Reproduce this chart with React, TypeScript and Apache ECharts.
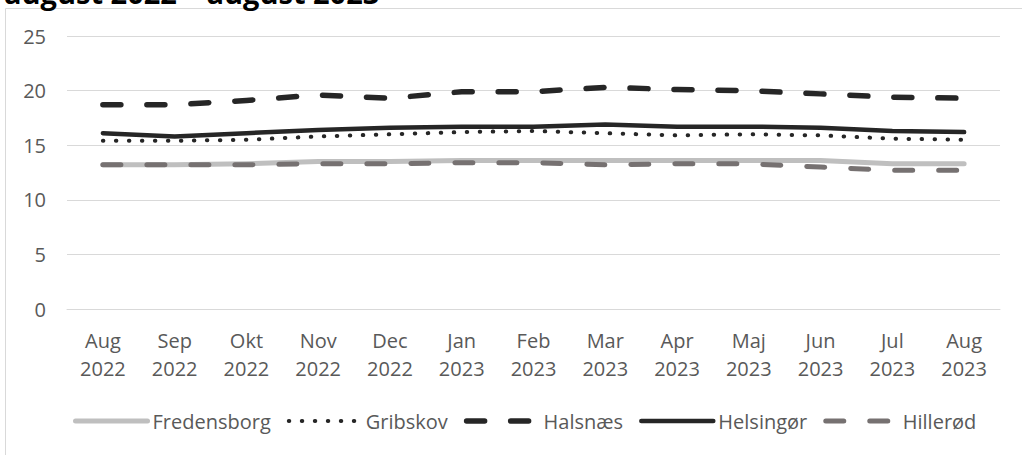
import React, { useEffect, useRef } from "react";
import * as echarts from "echarts";

const months = ["Aug", "Sep", "Okt", "Nov", "Dec", "Jan", "Feb", "Mar", "Apr", "Maj", "Jun", "Jul", "Aug"];
const years = ["2022", "2022", "2022", "2022", "2022", "2023", "2023", "2023", "2023", "2023", "2023", "2023", "2023"];
const categories = months.map((m, i) => m + "\n" + years[i]);

const fredensborg = [13.2, 13.2, 13.3, 13.5, 13.5, 13.6, 13.6, 13.6, 13.6, 13.6, 13.6, 13.3, 13.3];
const gribskov = [15.4, 15.4, 15.5, 15.8, 16.0, 16.2, 16.3, 16.1, 15.9, 16.0, 15.9, 15.6, 15.5];
const halsnaes = [18.7, 18.7, 19.1, 19.6, 19.3, 19.9, 19.9, 20.3, 20.1, 20.0, 19.7, 19.4, 19.3];
const helsingor = [16.1, 15.8, 16.1, 16.4, 16.6, 16.7, 16.7, 16.9, 16.7, 16.7, 16.6, 16.3, 16.2];
const hillerod = [13.2, 13.2, 13.2, 13.3, 13.3, 13.4, 13.4, 13.2, 13.3, 13.3, 13.0, 12.7, 12.7];

const titleText = "august 2022 \u2013 august 2023";
const FONT = "'Open Sans', 'Noto Sans', sans-serif";

export default function App() {
  const ref = useRef<HTMLDivElement>(null);
  useEffect(() => {
    document.body.style.margin = "0";
    const chart = echarts.init(ref.current!, null, { renderer: "svg" });
    const styles: Record<string, any> = {
      Fredensborg: { color: "#bfbfbf", width: 5, type: "solid" },
      Gribskov: { color: "#262626", width: 4, type: [0.5, 12.5] },
      "Halsnæs": { color: "#262626", width: 5.5, type: [18, 26] },
      "Helsingør": { color: "#262626", width: 4.5, type: "solid" },
      "Hillerød": { color: "#767171", width: 5, type: [18, 26] },
    };
    const names = ["Fredensborg", "Gribskov", "Halsnæs", "Helsingør", "Hillerød"];
    const dataMap: Record<string, number[]> = {
      Fredensborg: fredensborg,
      Gribskov: gribskov,
      "Halsnæs": halsnaes,
      "Helsingør": helsingor,
      "Hillerød": hillerod,
    };
    chart.setOption({
      animation: false,
      textStyle: { fontFamily: FONT },
      graphic: [
        {
          type: "rect",
          shape: { x: 5.5, y: 8.5, width: 1100, height: 600 },
          style: { fill: "none", stroke: "#d9d9d9", lineWidth: 1 },
          silent: true,
        },
        {
          type: "text",
          x: 4,
          y: -8,
          style: {
            text: titleText,
            font: "bold 29px " + FONT,
            fill: "#000000",
            verticalAlign: "middle",
            align: "left",
          },
        },
      ],
      grid: { left: 67, right: 22, top: 36, bottom: 146, containLabel: false },
      legend: {
        bottom: 19,
        left: 68,
        itemWidth: 72,
        itemHeight: 14,
        itemGap: 16,
        itemStyle: { opacity: 0 },
        textStyle: { color: "#595959", fontSize: 20, fontFamily: FONT },
        data: names.map((n) => ({
          name: n,
          itemStyle: { opacity: 0 },
          lineStyle: { ...styles[n], cap: "round", join: "round" },
        })),
      },
      xAxis: {
        type: "category",
        data: categories,
        boundaryGap: true,
        axisLine: { show: true, lineStyle: { color: "#d9d9d9", width: 1 } },
        axisTick: { show: false },
        axisLabel: { color: "#595959", fontSize: 20, lineHeight: 28, margin: 17, interval: 0, fontFamily: FONT },
      },
      yAxis: {
        type: "value",
        min: 0,
        max: 25,
        interval: 5,
        axisLine: { show: false },
        axisTick: { show: false },
        splitLine: { lineStyle: { color: "#d9d9d9", width: 1 } },
        axisLabel: { color: "#595959", fontSize: 20, margin: 21, fontFamily: FONT },
      },
      series: names.map((n) => ({
        name: n,
        type: "line",
        data: dataMap[n],
        symbol: "none",
        lineStyle: { ...styles[n], cap: "round", join: "round" },
        itemStyle: { color: styles[n].color },
      })),
    });
    return () => chart.dispose();
  }, []);
  return <div ref={ref} style={{ width: 1022, height: 455 }} />;
}
